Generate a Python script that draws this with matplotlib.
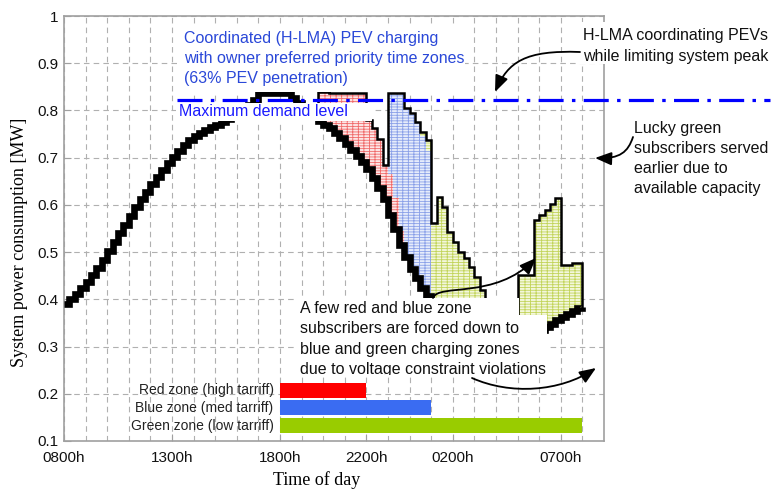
import numpy as np
import matplotlib
matplotlib.use("Agg")
import matplotlib.pyplot as plt
from matplotlib.patches import Rectangle, Polygon, FancyArrowPatch
from matplotlib.path import Path
from matplotlib.transforms import Bbox, TransformedBbox

plt.rcParams['font.family'] = ['Liberation Sans', 'DejaVu Sans']
plt.rcParams['lines.scale_dashes'] = False
plt.rcParams['hatch.linewidth'] = 0.6

# ---- data (15 min steps, hours since 00:00 of day 1; 24+ = next morning) ----
t_start, t_step = 8.0, 0.25

base_load = [0.390, 0.400, 0.412, 0.424, 0.437, 0.451, 0.466, 0.483,
             0.502, 0.521, 0.540, 0.558, 0.577, 0.595, 0.612, 0.628,
             0.644, 0.659, 0.674, 0.688, 0.701, 0.714, 0.726, 0.737,
             0.746, 0.753, 0.759, 0.764, 0.769, 0.775, 0.781, 0.788,
             0.795, 0.803, 0.812, 0.822, 0.836, 0.838, 0.838, 0.838,
             0.838, 0.836, 0.826, 0.815, 0.805, 0.795, 0.786, 0.777,
             0.770, 0.762, 0.752, 0.741, 0.730, 0.717, 0.704, 0.690,
             0.676, 0.658, 0.636, 0.612, 0.578, 0.548, 0.516, 0.489,
             0.465, 0.445, 0.425, 0.407, 0.392, 0.380, 0.370, 0.361,
             0.353, 0.347, 0.341, 0.337, 0.334, 0.331, 0.330, 0.329,
             0.328, 0.328, 0.328, 0.328, 0.329, 0.330, 0.331, 0.333,
             0.336, 0.341, 0.348, 0.356, 0.363, 0.370, 0.376, 0.381,
             0.384]

# PEV charging load per priority zone, from 19:30 on (same 15 min steps)
pev_start = 19.5
pev_red = ([0.0, 0.061, 0.068, 0.076, 0.084, 0.095, 0.106, 0.121, 0.134,
            0.148, 0.104, 0.105, 0.104, 0.073, 0.087, 0.067, 0.029, 0.0]
           + [0.0] * 33)
pev_blue = ([0.0] * 14
            + [0.173, 0.223, 0.291, 0.316, 0.330, 0.330, 0.320, 0.308]
            + [0.0] * 29)
pev_green = ([0.0] * 20
             + [0.010, 0.022, 0.170, 0.237, 0.226, 0.182, 0.169, 0.153,
                0.146, 0.132, 0.114, 0.089, 0.060, 0.036, 0.017, 0.0,
                0.0, 0.0, 0.122, 0.121, 0.120, 0.235, 0.242, 0.249,
                0.253, 0.258, 0.109, 0.102, 0.102, 0.097, 0.0])

max_demand = 0.822

zone_names = ['Red zone (high tarriff)', 'Blue zone (med tarriff)', 'Green zone (low tarriff)']
zone_begin = [18, 18, 18]
zone_end = [22, 25, 32]
zone_colors = ['#ff0000', '#3a6cf2', '#99cc00']

tick_hours = [8, 13, 18, 22, 26, 31]
tick_labels = ['0800h', '1300h', '1800h', '2200h', '0200h', '0700h']

# ---- helpers for figure pixel positions ----
W, H = 772, 495
def fx(x): return x / W
def fy(y): return 1 - y / H

fig = plt.figure(figsize=(W / 100, H / 100), dpi=100)
ax = fig.add_axes([fx(64), fy(441), (604 - 64) / W, (441 - 16) / H])

t = t_start + t_step * np.arange(len(base_load))
base = np.array(base_load)
i0 = int(round((pev_start - t_start) / t_step))
tw = t[i0:]
b = base[i0:]
red_top = b + np.array(pev_red)
blue_top = red_top + np.array(pev_blue)
total = blue_top + np.array(pev_green)

hatch = '------|||'
ax.fill_between(tw, b, red_top, step='post', facecolor='#fde6e6',
                edgecolor='#f06a6a', hatch=hatch, lw=0, zorder=2)
ax.fill_between(tw, red_top, blue_top, step='post', facecolor='#e6ecfb',
                edgecolor='#8aa0e8', hatch=hatch, lw=0, zorder=2)
ax.fill_between(tw, blue_top, total, step='post', facecolor='#f3f7dc',
                edgecolor='#c2d45a', hatch=hatch, lw=0, zorder=2)

ax.plot(tw, total, drawstyle='steps-post', color='black', lw=1.8,
        solid_joinstyle='miter', zorder=3)
ax.plot(t, base, drawstyle='steps-post', color='black', lw=4.8,
        solid_joinstyle='miter', solid_capstyle='butt', zorder=4)

# max demand level, runs out past the axes to the right
ax.plot([13.24, 40.7], [max_demand, max_demand], color='#0000ff', lw=2.3,
        dashes=(18, 6, 2.5, 6), clip_on=False, zorder=10)

# zone bars
bar_y = [0.2076, 0.1706, 0.1324]
for name, x0, x1, c, y in zip(zone_names, zone_begin, zone_end, zone_colors, bar_y):
    ax.barh(y, x1 - x0, left=x0, height=0.031, color=c, zorder=3)
    ax.text(17.7, y, name, ha='right', va='center', fontsize=10, color='#222222', zorder=5)

ax.set_xlim(8, 33)
ax.set_ylim(0.1, 1.0)
ax.set_xticks(tick_hours)
ax.set_xticklabels(tick_labels)
ax.set_xticks(np.arange(8, 34), minor=True)
ax.set_yticks(np.arange(1, 11) / 10)
ax.set_yticklabels(['%g' % v for v in np.arange(1, 11) / 10])
ax.tick_params(which='major', direction='in', length=5, color='#a0a0a0',
               labelsize=11, labelcolor='#111111')
ax.tick_params(axis='x', which='major', pad=7)
ax.tick_params(axis='y', which='major', pad=4)
ax.tick_params(which='minor', length=0)
ax.grid(True, which='both', axis='x', color='#b0b0b0', lw=0.8, dashes=(4, 3))
ax.grid(True, which='major', axis='y', color='#b0b0b0', lw=0.8, dashes=(4, 3))
ax.set_axisbelow(True)
for s in ax.spines.values():
    s.set_color('#a0a0a0')
    s.set_linewidth(1.2)

# axis labels
fig.text(fx(317), fy(480), 'Time of day', ha='center', va='center',
         family='Liberation Serif', fontsize=13)
fig.text(fx(20), fy(242), 'System power consumption [MW]', ha='center', va='center',
         rotation=90, family='Liberation Serif', fontsize=13)

# white boxes behind the annotation texts
def white_box(x0, y0, x1, y1):
    fig.add_artist(Rectangle((fx(x0), fy(y1)), (x1 - x0) / W, (y1 - y0) / H,
                             transform=fig.transFigure, fc='white', ec='none', zorder=1))

white_box(178, 27, 465, 92)
white_box(176, 103, 372, 121)
white_box(578, 22, 772, 64)
pts = [(295, 298), (519, 298), (519, 315), (547, 315), (547, 375), (295, 375)]
fig.add_artist(Polygon([(fx(x), fy(y)) for x, y in pts], closed=True,
                       transform=fig.transFigure, fc='white', ec='none', zorder=1))

fig.text(fx(184), fy(58.5), 'Coordinated (H-LMA) PEV charging\nwith owner preferred priority time zones\n(63% PEV penetration)',
         ha='left', va='center', fontsize=11.5, color='#2a48d8', linespacing=1.45)
fig.text(fx(179), fy(112), 'Maximum demand level', ha='left', va='center',
         fontsize=11.5, color='#1a1aff')
fig.text(fx(583), fy(46), 'H-LMA coordinating PEVs\nwhile limiting system peak',
         ha='left', va='center', fontsize=11.5, color='#111111', linespacing=1.5)
fig.text(fx(634), fy(158.5), 'Lucky green\nsubscribers served\nearlier due to\navailable capacity',
         ha='left', va='center', fontsize=11.5, color='#111111', linespacing=1.4)
few = fig.text(fx(300), fy(339), 'A few red and blue zone\nsubscribers are forced down to\n'
               'blue and green charging zones\ndue to voltage constraint violations',
               ha='left', va='center', fontsize=11.5, color='#111111', linespacing=1.43)
few.set_clip_box(TransformedBbox(Bbox([[0, fy(375)], [1, 1]]), fig.transFigure))
few.set_clip_on(True)

# curved arrows
def curved_arrow(p0, p1, p2, p3):
    verts = [(fx(x), fy(y)) for x, y in (p0, p1, p2, p3)]
    path = Path(verts, [Path.MOVETO, Path.CURVE4, Path.CURVE4, Path.CURVE4])
    fig.add_artist(FancyArrowPatch(path=path, arrowstyle='-|>,head_length=1.0,head_width=0.4',
                                   mutation_scale=10, lw=1.3, color='black',
                                   shrinkA=0, shrinkB=0, transform=fig.transFigure, zorder=4))

curved_arrow((580, 52), (525, 50), (508, 62), (495, 92))
curved_arrow((633, 137), (628, 152), (620, 159), (595, 158))
curved_arrow((433, 298), (438, 283), (495, 300), (536, 258))
curved_arrow((472, 378), (510, 395), (560, 392), (596, 368))

fig.savefig('out.png', dpi=100, facecolor='white')
